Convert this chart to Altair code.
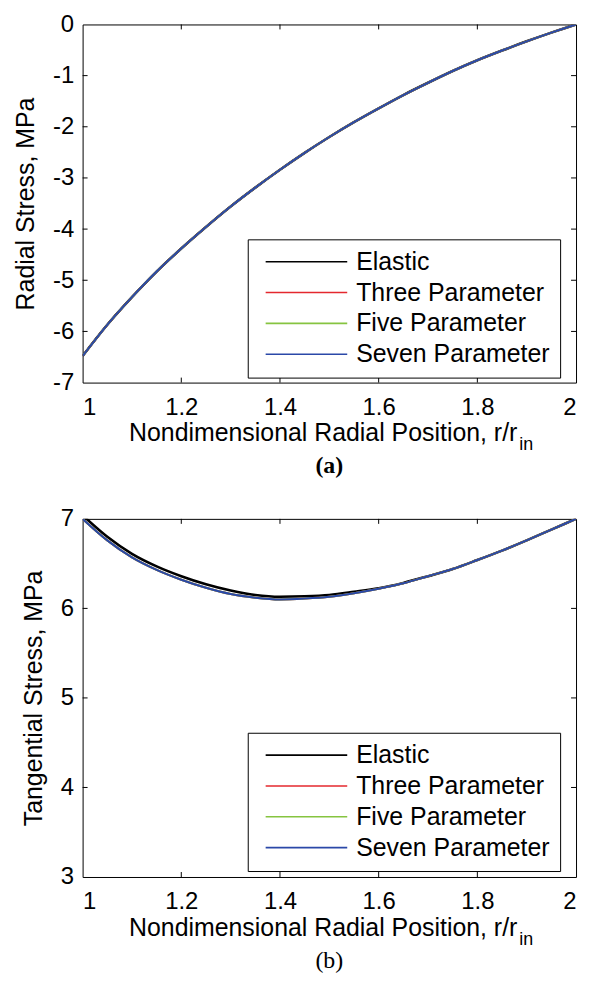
import altair as alt
import pandas as pd

# ---------------- data ----------------
r_pos = [1.00, 1.05, 1.10, 1.15, 1.20, 1.25, 1.30, 1.35, 1.40, 1.45, 1.50,
         1.55, 1.60, 1.65, 1.70, 1.75, 1.80, 1.85, 1.90, 1.95, 2.00]

series_names = ["Elastic", "Three Parameter", "Five Parameter", "Seven Parameter"]
series_colors = ["#000000", "#e4282e", "#86c440", "#2b48a8"]

# (a) radial stress, MPa
radial_elastic = [-6.48, -5.87, -5.33, -4.83, -4.38, -3.96, -3.56, -3.19, -2.84, -2.51, -2.20,
                  -1.91, -1.64, -1.38, -1.14, -0.91, -0.70, -0.51, -0.33, -0.16, 0.00]
radial_three = [-6.48, -5.87, -5.33, -4.83, -4.38, -3.96, -3.56, -3.19, -2.84, -2.51, -2.20,
                -1.91, -1.64, -1.38, -1.14, -0.91, -0.70, -0.51, -0.33, -0.16, 0.00]
radial_five = [-6.48, -5.87, -5.33, -4.83, -4.38, -3.96, -3.56, -3.19, -2.84, -2.51, -2.20,
               -1.91, -1.64, -1.38, -1.14, -0.91, -0.70, -0.51, -0.33, -0.16, 0.00]
radial_seven = [-6.48, -5.87, -5.33, -4.83, -4.38, -3.96, -3.56, -3.19, -2.84, -2.51, -2.20,
                -1.91, -1.64, -1.38, -1.14, -0.91, -0.70, -0.51, -0.33, -0.16, 0.00]

# (b) tangential stress, MPa
tang_elastic = [7.04, 6.80, 6.61, 6.47, 6.36, 6.27, 6.20, 6.15, 6.13, 6.135, 6.15,
                6.185, 6.225, 6.285, 6.36, 6.44, 6.54, 6.645, 6.76, 6.88, 7.00]
tang_three = [7.00, 6.76, 6.57, 6.43, 6.32, 6.23, 6.16, 6.12, 6.10, 6.11, 6.13,
              6.17, 6.22, 6.28, 6.36, 6.44, 6.54, 6.645, 6.76, 6.88, 7.00]
tang_five = [7.00, 6.76, 6.57, 6.43, 6.32, 6.23, 6.16, 6.12, 6.10, 6.11, 6.13,
             6.17, 6.22, 6.28, 6.36, 6.44, 6.54, 6.645, 6.76, 6.88, 7.00]
tang_seven = [7.00, 6.76, 6.57, 6.43, 6.32, 6.23, 6.16, 6.12, 6.10, 6.11, 6.13,
              6.17, 6.22, 6.28, 6.36, 6.44, 6.54, 6.645, 6.76, 6.88, 7.00]

x_ticks = [1, 1.2, 1.4, 1.6, 1.8, 2]
radial_ticks = [-7, -6, -5, -4, -3, -2, -1, 0]
tang_ticks = [3, 4, 5, 6, 7]

x_title = "Nondimensional Radial Position, r/r"
x_title_sub = "in"
y_titles = ["Radial Stress, MPa", "Tangential Stress, MPa"]
captions = ["(a)", "(b)"]

# ---------------- styling ----------------
W, H = 496, 360
SANS = "Liberation Sans, Arial, Helvetica, sans-serif"
SERIF = "Liberation Serif, Times New Roman, serif"
TICK_LEN = 5


def panel(curves, yticks, ytitle, caption, caption_bold, label_extent, legend_y):
    xscale = alt.Scale(domain=[1, 2], nice=False, zero=False)
    yscale = alt.Scale(domain=[yticks[0], yticks[-1]], nice=False, zero=False)
    xaxis = alt.Axis(values=x_ticks, labelExpr="datum.value + ''", title=None,
                     labelFontSize=24, labelFont=SANS, labelPadding=13,
                     ticks=False, tickSize=0, domain=False, grid=False)
    yaxis = alt.Axis(values=yticks, labelExpr="datum.value + ''", title=ytitle,
                     labelFontSize=24, labelFont=SANS, labelPadding=9,
                     titleFontSize=25, titleFont=SANS, titleFontWeight="normal",
                     titlePadding=13.5, minExtent=label_extent, maxExtent=label_extent,
                     ticks=False, tickSize=0, domain=False, grid=False)
    legend = alt.Legend(orient="none", legendX=166, legendY=legend_y, title=None,
                        symbolType="stroke", symbolSize=6724, symbolStrokeWidth=1.6,
                        labelFontSize=25, labelFont=SANS, labelColor="black",
                        labelOffset=8, symbolOffset=7, clipHeight=25, rowPadding=5,
                        padding=10, strokeColor="black", fillColor="white",
                        labelLimit=400)
    color = alt.Color("series:N", scale=alt.Scale(domain=series_names, range=series_colors),
                      legend=legend)

    layers = []
    widths = [2.6, 2.0, 2.0, 2.0]
    for name, vals, w in zip(series_names, curves, widths):
        df = pd.DataFrame({"r": r_pos, "s": vals, "series": name})
        layers.append(
            alt.Chart(df).mark_line(clip=True, strokeWidth=w, interpolate="monotone").encode(
                x=alt.X("r:Q", scale=xscale, axis=xaxis),
                y=alt.Y("s:Q", scale=yscale, axis=yaxis),
                color=color,
            )
        )

    inner_x = pd.DataFrame({"r": x_ticks[1:-1]})
    inner_y = pd.DataFrame({"s": yticks[1:-1]})
    rule = dict(color="black", strokeWidth=1)
    layers += [
        alt.Chart(inner_x).mark_rule(**rule).encode(
            x=alt.X("r:Q", scale=xscale, axis=xaxis), y=alt.value(H), y2=alt.value(H - TICK_LEN)),
        alt.Chart(inner_x).mark_rule(**rule).encode(
            x=alt.X("r:Q", scale=xscale, axis=xaxis), y=alt.value(0), y2=alt.value(TICK_LEN)),
        alt.Chart(inner_y).mark_rule(**rule).encode(
            y=alt.Y("s:Q", scale=yscale, axis=yaxis), x=alt.value(0), x2=alt.value(TICK_LEN)),
        alt.Chart(inner_y).mark_rule(**rule).encode(
            y=alt.Y("s:Q", scale=yscale, axis=yaxis), x=alt.value(W), x2=alt.value(W - TICK_LEN)),
    ]

    # x-axis title with subscript, and panel caption
    layers += [
        alt.Chart(pd.DataFrame({"t": [x_title]})).mark_text(
            align="right", baseline="middle", fontSize=25, font=SANS, color="black"
        ).encode(text="t:N", x=alt.value(437), y=alt.value(411)),
        alt.Chart(pd.DataFrame({"t": [x_title_sub]})).mark_text(
            align="left", baseline="middle", fontSize=18, font=SANS, color="black"
        ).encode(text="t:N", x=alt.value(439), y=alt.value(423)),
        alt.Chart(pd.DataFrame({"t": [caption]})).mark_text(
            align="center", baseline="middle", fontSize=24, font=SERIF, color="black",
            fontWeight="bold" if caption_bold else "normal"
        ).encode(text="t:N", x=alt.value(248), y=alt.value(444)),
    ]
    return alt.layer(*layers).properties(width=W, height=H)


top = panel([radial_elastic, radial_three, radial_five, radial_seven],
            radial_ticks, y_titles[0], captions[0], True, 31, 216)
bottom = panel([tang_elastic, tang_three, tang_five, tang_seven],
               tang_ticks, y_titles[1], captions[1], False, 23, 215)

chart = (
    alt.vconcat(top, bottom, spacing=137, bounds="flush")
    .resolve_scale(color="independent", x="independent", y="independent")
    .properties(padding={"left": 5, "top": 1, "right": 5, "bottom": 5}, background="white")
    .configure_view(stroke="black", strokeWidth=1)
    .configure_axis(labelColor="black", titleColor="black")
)

chart.save("out.html", embed_options={"renderer": "svg", "actions": False})
